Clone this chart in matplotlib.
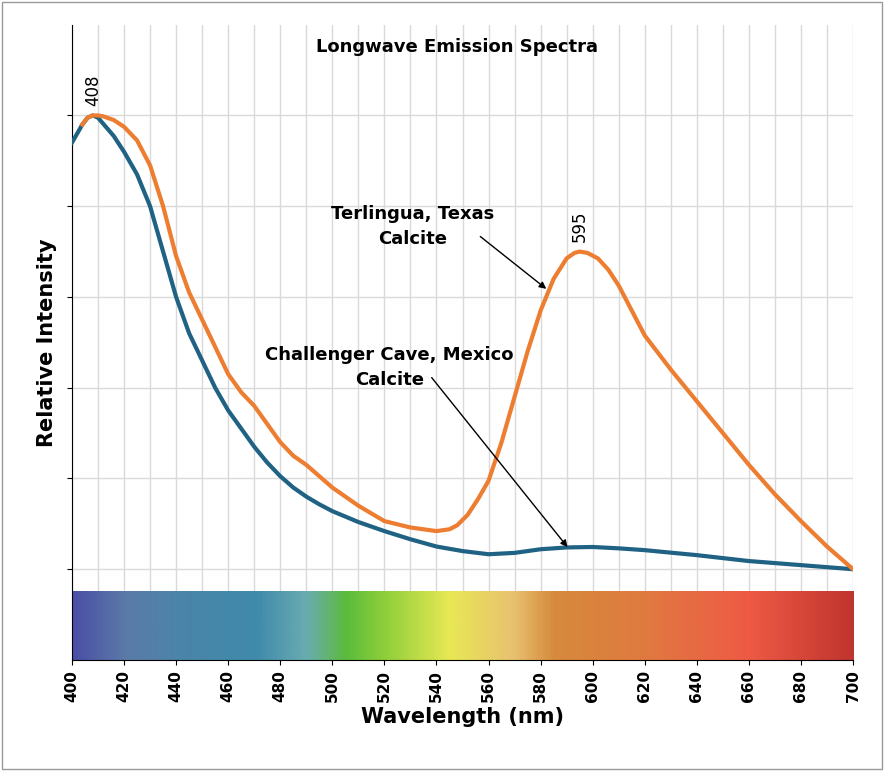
import numpy as np
import matplotlib.pyplot as plt
from matplotlib.colors import LinearSegmentedColormap

# Challenger Cave (blue)
wl_blue = [400, 402, 404, 406, 408, 410, 413, 416, 420, 425, 430, 435, 440, 445, 450, 455, 460,
           465, 470, 475, 480, 485, 490, 495, 500, 510, 520, 530, 540, 550, 560, 570, 580,
           590, 600, 610, 620, 640, 660, 680, 700]
int_blue = [0.94, 0.96, 0.98, 0.995, 1.0, 0.995, 0.975, 0.955, 0.92, 0.87, 0.80, 0.70, 0.60,
            0.52, 0.46, 0.40, 0.35, 0.31, 0.27, 0.235, 0.205, 0.18, 0.16, 0.143, 0.128, 0.104,
            0.084, 0.066, 0.05, 0.04, 0.033, 0.036, 0.044, 0.048, 0.049, 0.046, 0.042, 0.031,
            0.018, 0.009, 0.0]

# Terlingua (orange)
wl_orange = [404, 406, 408, 410, 412, 416, 420, 425, 430, 435, 440, 445, 450, 455, 460, 465, 470,
             475, 480, 485, 490, 495, 500, 510, 520, 530, 540, 545, 548, 552, 556, 560, 565, 570,
             575, 580, 585, 590, 593, 595, 598, 602, 606, 610, 615, 620, 630, 640, 650, 660, 670,
             680, 690, 700]
int_orange = [0.98, 0.995, 1.0, 1.0, 0.998, 0.99, 0.975, 0.945, 0.89, 0.80, 0.69, 0.61, 0.55,
              0.49, 0.43, 0.39, 0.36, 0.32, 0.28, 0.25, 0.23, 0.205, 0.18, 0.14, 0.106, 0.092,
              0.084, 0.088, 0.097, 0.12, 0.155, 0.195, 0.28, 0.38, 0.48, 0.57, 0.64, 0.685,
              0.697, 0.70, 0.697, 0.685, 0.66, 0.625, 0.57, 0.515, 0.44, 0.37, 0.30, 0.23,
              0.165, 0.106, 0.05, 0.0]

bar_wl = [400, 420, 440, 470, 490, 505, 520, 545, 570, 585, 620, 660, 700]
bar_colors = ["#4b4fa6", "#5b7aa8", "#4c84a8", "#3f8aab", "#6aacb0", "#5bbb3a", "#8fcf3a",
              "#e8e854", "#e8c070", "#d68a3c", "#e07a40", "#ee5a45", "#c0352e"]

fig = plt.figure(figsize=(8.84, 7.71), dpi=100)
fig.patches.append(plt.Rectangle((0.002, 0.002), 0.996, 0.996, transform=fig.transFigure,
                                 fill=False, edgecolor="#999999", lw=1))
ax = fig.add_axes([0.0814, 0.144, 0.8836, 0.824])
ax.set_axisbelow(True)

cmap = LinearSegmentedColormap.from_list(
    "spec", [((w - 400) / 300, c) for w, c in zip(bar_wl, bar_colors)])
ax.imshow(np.linspace(0, 1, 600)[None, :], cmap=cmap, aspect="auto",
          extent=[400, 700, -0.2, -0.05], zorder=2)

ax.plot(wl_blue, int_blue, color="#1f6283", lw=3, zorder=3)
ax.plot(wl_orange, int_orange, color="#ed7d31", lw=3, zorder=3)

ax.set_xlim(400, 700)
ax.set_ylim(-0.2, 1.2)
ax.set_xticks(range(400, 701, 20))
ax.set_xticks(range(410, 700, 20), minor=True)
ax.set_yticks([0, 0.2, 0.4, 0.6, 0.8, 1.0])
ax.set_yticklabels([])
ax.grid(True, which="both", color="#d9d9d9", lw=1)
ax.tick_params(axis="x", which="minor", length=0)
ax.tick_params(axis="x", labelrotation=90)
for lab in ax.get_xticklabels():
    lab.set_fontweight("bold")
    lab.set_fontsize(11)
for s in ["top", "right"]:
    ax.spines[s].set_visible(False)

ax.set_xlabel("Wavelength (nm)", fontsize=15, fontweight="bold")
ax.set_ylabel("Relative Intensity", fontsize=15, fontweight="bold")
ax.text(548, 1.15, "Longwave Emission Spectra", ha="center", va="center",
        fontsize=13, fontweight="bold")
ax.text(408, 1.02, "408", rotation=90, ha="center", va="bottom", fontsize=12)
ax.text(595, 0.72, "595", rotation=90, ha="center", va="bottom", fontsize=12)

ax.text(531, 0.755, "Terlingua, Texas\nCalcite", ha="center", va="center",
        fontsize=13, fontweight="bold", linespacing=1.5)
ax.annotate("", xy=(583, 0.614), xytext=(556, 0.737),
            arrowprops=dict(arrowstyle="-|>", color="black", lw=1))
ax.text(522, 0.445, "Challenger Cave, Mexico\nCalcite", ha="center", va="center",
        fontsize=13, fontweight="bold", linespacing=1.5)
ax.annotate("", xy=(591, 0.044), xytext=(537.5, 0.427),
            arrowprops=dict(arrowstyle="-|>", color="black", lw=1))

fig.savefig("out.png", dpi=100)
